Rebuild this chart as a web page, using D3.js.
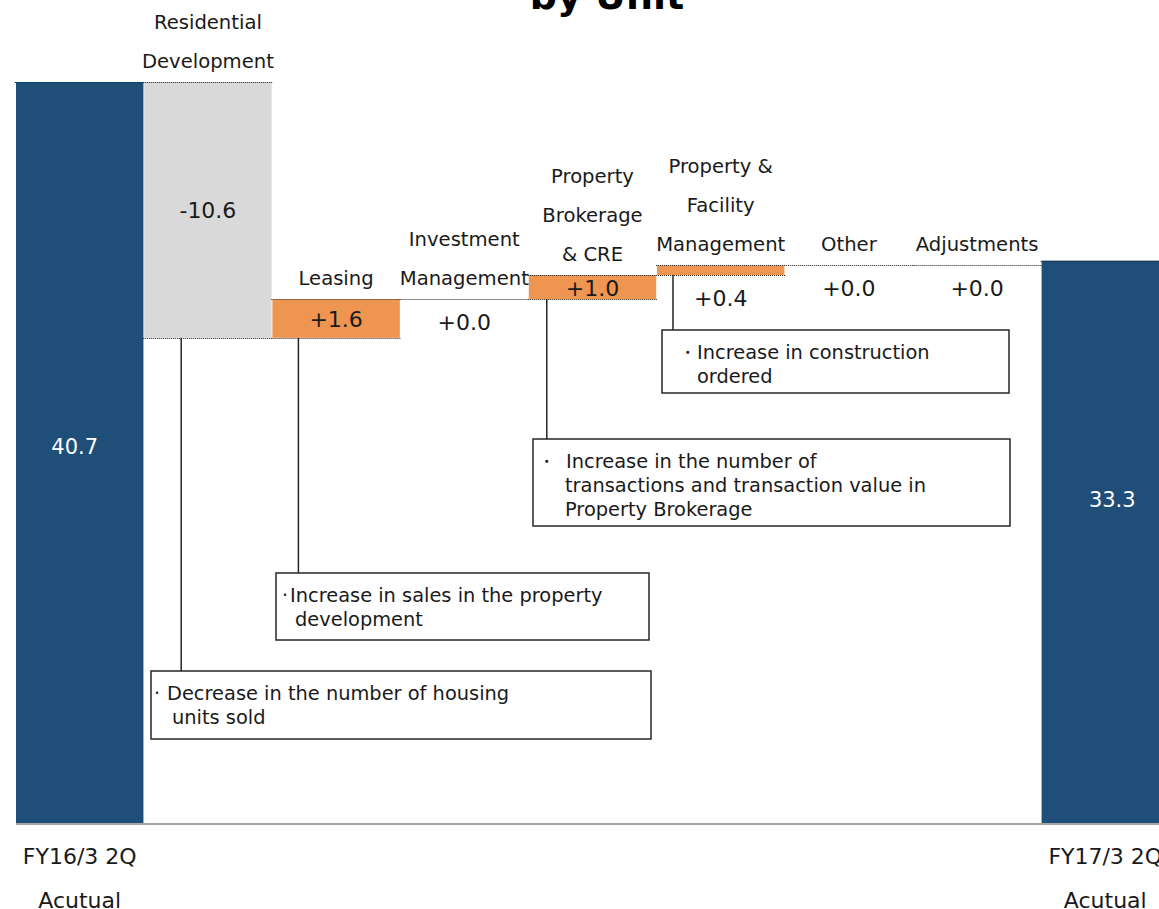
<!DOCTYPE html>
<html>
<head>
<meta charset="utf-8">
<script src="https://cdn.jsdelivr.net/npm/d3@7"></script>
<style>
  html, body { margin: 0; padding: 0; background: #fff; }
  svg { display: block; font-family: "DejaVu Sans", Verdana, sans-serif; }
</style>
</head>
<body>
<svg id="chart" width="1159" height="909"></svg>
<script>
// ---- data ----
const categories = [
  "FY16/3 2Q Acutual",
  "Residential Development",
  "Leasing",
  "Investment Management",
  "Property Brokerage & CRE",
  "Property & Facility Management",
  "Other",
  "Adjustments",
  "FY17/3 2Q Acutual"
];
const categoryLines = [
  [],
  ["Residential", "Development"],
  ["Leasing"],
  ["Investment", "Management"],
  ["Property", "Brokerage", "& CRE"],
  ["Property &", "Facility", "Management"],
  ["Other"],
  ["Adjustments"],
  []
];
const axisLabelLines = [
  ["FY16/3 2Q", "Acutual"], [], [], [], [], [], [], [], ["FY17/3 2Q", "Acutual"]
];
const barKinds = ["total", "delta", "delta", "delta", "delta", "delta", "delta", "delta", "total"];
const values = [40.7, -10.6, 1.6, 0.0, 1.0, 0.4, 0.0, 0.0, 33.3];
const valueLabels = ["40.7", "-10.6", "+1.6", "+0.0", "+1.0", "+0.4", "+0.0", "+0.0", "33.3"];

const noteCategories = [
  "Residential Development",
  "Leasing",
  "Property Brokerage & CRE",
  "Property & Facility Management"
];
const noteBullets = ["·", "·", "・", "・"];
const noteLines = [
  ["Decrease in the number of housing", "units sold"],
  ["Increase in sales in the property", "development"],
  ["Increase in the number of", "transactions and transaction value in", "Property Brokerage"],
  ["Increase in construction", "ordered"]
];

const axisFloor = 10;   // value axis starts here, not at zero

// ---- layout ----
const W = 1159, H = 909;
const baseY = 823, topY = 82;
const colors = { total: "#1f4e79", up: "#ee9551", down: "#d9d9d9" };
const ink = "#1a1a1a";

const svg = d3.select("#chart");

const x = d3.scaleBand().domain(categories).range([16, 1169]).paddingInner(0.006).paddingOuter(0);
const y = d3.scaleLinear().domain([axisFloor, d3.max(values)]).range([baseY, topY]);

// running totals for the waterfall
let running = 0;
const rows = categories.map((c, i) => {
  let start, end;
  if (barKinds[i] === "total") {
    start = axisFloor; end = values[i]; running = values[i];
  } else {
    start = running; end = running + values[i]; running = end;
  }
  return {
    cat: c, i, kind: barKinds[i], value: values[i],
    hi: Math.max(start, end), lo: Math.min(start, end), label: valueLabels[i]
  };
});

// title (second line of the heading)
svg.append("text")
  .attr("x", 607).attr("y", 9)
  .attr("text-anchor", "middle")
  .attr("font-weight", "bold").attr("font-size", 38)
  .attr("fill", "#000")
  .text("by Unit");

// bars
svg.append("g").selectAll("rect")
  .data(rows.filter(d => d.hi !== d.lo))
  .join("rect")
  .attr("x", d => x(d.cat))
  .attr("width", x.bandwidth())
  .attr("y", d => y(d.hi))
  .attr("height", d => y(d.lo) - y(d.hi))
  .attr("fill", d => d.kind === "total" ? colors.total : (d.value < 0 ? colors.down : colors.up));

// dotted bar edges / connectors
const edges = [];
rows.forEach(d => {
  edges.push({ cat: d.cat, v: d.hi });
  if (d.kind === "delta" && d.hi !== d.lo) edges.push({ cat: d.cat, v: d.lo });
});
svg.append("g").selectAll("line")
  .data(edges)
  .join("line")
  .attr("x1", d => x(d.cat) - 1)
  .attr("x2", d => x(d.cat) + x.bandwidth() + 1)
  .attr("y1", d => Math.round(y(d.v)) + 0.5)
  .attr("y2", d => Math.round(y(d.v)) + 0.5)
  .attr("stroke", "#222")
  .attr("stroke-width", 1)
  .attr("stroke-dasharray", "1,1");

// baseline
svg.append("line")
  .attr("x1", 16).attr("x2", W)
  .attr("y1", baseY + 1).attr("y2", baseY + 1)
  .attr("stroke", "#a6a6a6").attr("stroke-width", 2);

// value labels
const totalShift = { 0: { dx: -5, dy: -6 }, 8: { dx: 7, dy: -42 } };
svg.append("g").selectAll("text")
  .data(rows)
  .join("text")
  .attr("text-anchor", "middle")
  .attr("dominant-baseline", "central")
  .attr("font-size", d => d.kind === "total" ? 21 : 22)
  .attr("fill", d => d.kind === "total" ? "#fff" : ink)
  .attr("x", d => x(d.cat) + x.bandwidth() / 2 + (totalShift[d.i] ? totalShift[d.i].dx : 0))
  .attr("y", d => {
    const top = y(d.hi), bot = y(d.lo);
    if (d.kind === "total") return (top + bot) / 2 + totalShift[d.i].dy;
    if (bot - top >= 20) return (top + bot) / 2 + 1;
    return bot + 23;
  })
  .text(d => d.label);

// category labels above each step
const catG = svg.append("g");
rows.forEach(d => {
  const lines = categoryLines[d.i];
  if (!lines.length) return;
  const lastY = y(d.hi) - 21;
  lines.forEach((t, k) => {
    catG.append("text")
      .attr("x", x(d.cat) + x.bandwidth() / 2)
      .attr("y", lastY - (lines.length - 1 - k) * 39)
      .attr("text-anchor", "middle")
      .attr("dominant-baseline", "central")
      .attr("font-size", 19.6)
      .attr("fill", ink)
      .text(t);
  });
});

// axis labels under the total bars
const axG = svg.append("g");
rows.forEach(d => {
  axisLabelLines[d.i].forEach((t, k) => {
    axG.append("text")
      .attr("x", x(d.cat) + x.bandwidth() / 2)
      .attr("y", 856 + k * 44)
      .attr("text-anchor", "middle")
      .attr("dominant-baseline", "central")
      .attr("font-size", 22)
      .attr("fill", ink)
      .text(t);
  });
});

// explanatory notes with leader lines
const noteLayout = [
  { box: [151, 671, 500, 68], link: 37, bulletX: 157, firstX: 167, restX: 172 },
  { box: [276, 573, 373, 67], link: 26, bulletX: 285, firstX: 290, restX: 295 },
  { box: [533, 439, 477, 87], link: 18, bulletX: 546, firstX: 566, restX: 565 },
  { box: [662, 330, 347, 63], link: 16, bulletX: 687, firstX: 697, restX: 697 }
];
const noteG = svg.append("g");
noteCategories.forEach((cat, n) => {
  const row = rows.find(r => r.cat === cat);
  const L = noteLayout[n];
  const [bx, by, bw, bh] = L.box;
  const lx = x(cat) + L.link;
  noteG.append("line")
    .attr("x1", lx).attr("x2", lx)
    .attr("y1", y(row.lo)).attr("y2", by)
    .attr("stroke", "#262626").attr("stroke-width", 1.5);
  noteG.append("rect")
    .attr("x", bx).attr("y", by).attr("width", bw).attr("height", bh)
    .attr("fill", "#fff").attr("stroke", "#262626").attr("stroke-width", 1.5);
  noteG.append("text")
    .attr("x", L.bulletX).attr("y", by + 22)
    .attr("text-anchor", "middle").attr("dominant-baseline", "central")
    .attr("font-size", 19).attr("fill", ink)
    .text(noteBullets[n]);
  noteLines[n].forEach((t, k) => {
    noteG.append("text")
      .attr("x", k === 0 ? L.firstX : L.restX)
      .attr("y", by + 22 + k * 24)
      .attr("dominant-baseline", "central")
      .attr("font-size", 19.4).attr("fill", ink)
      .text(t);
  });
});
</script>
</body>
</html>
